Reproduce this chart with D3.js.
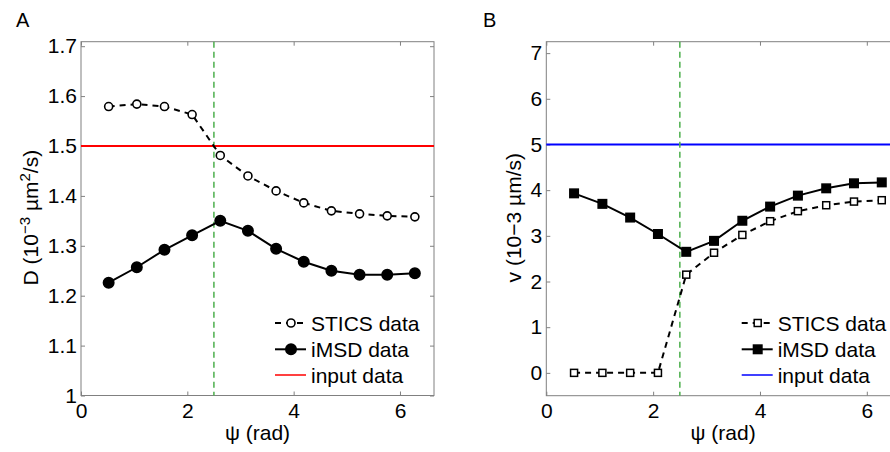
<!DOCTYPE html>
<meta charset="utf-8">
<style>
 body { margin: 0; background: #fff; }
 text { font-family: "Liberation Sans", Arial, sans-serif; fill: #000; }
 .axis path { display: none; }
 .axis line { stroke: #808080; }
 .axis text { font-size: 21px; }
 .frame { fill: none; stroke: #808080; stroke-width: 1; }
</style>
<svg id="chart" width="890" height="452"></svg>
<script src="https://cdn.jsdelivr.net/npm/d3@7"></script>
<script>

 // angle psi (rad) of each measurement
 var psi = [0.52, 1.05, 1.57, 2.09, 2.62, 3.14, 3.67, 4.19, 4.71, 5.24, 5.76, 6.28];

 // panel A: diffusion coefficient
 var dStics = [1.579, 1.584, 1.579, 1.563, 1.481, 1.440, 1.410, 1.386, 1.370, 1.364, 1.360, 1.358];
 var dImsd  = [1.226, 1.257, 1.292, 1.321, 1.350, 1.330, 1.294, 1.268, 1.250, 1.242, 1.242, 1.245];
 var dInput = 1.5;
 var dTicks = [1, 1.1, 1.2, 1.3, 1.4, 1.5, 1.6, 1.7];

 // panel B: velocity
 var vStics = [0, 0, 0, 0, 2.15, 2.63, 3.02, 3.32, 3.54, 3.67, 3.75, 3.78];
 var vImsd  = [3.93, 3.70, 3.40, 3.04, 2.65, 2.89, 3.33, 3.64, 3.88, 4.04, 4.15, 4.17];
 var vInput = 5;
 var vTicks = [0, 1, 2, 3, 4, 5, 6, 7];

 var xTicks = [0, 2, 4, 6];
 var psiMark = 2.5;
 var legendNames = ["STICS data", "iMSD data", "input data"];

 var svg = d3.select("#chart");

 drawPanel({
     label: "A", left: 81, right: 434, top: 41.7, bottom: 395.5,
     ydom: [1, 1.709], yticks: dTicks, yfmt: function(d) { return d == 1 ? "1" : d3.format(".1f")(d); },
     stics: dStics, imsd: dImsd, input: dInput, inputColor: "#ff0000",
     marker: "circle", ylabelX: 37.5, legendX: 275, labelX: 16
 });

 drawPanel({
     label: "B", left: 546.3, right: 901, top: 41.7, bottom: 395.7,
     ydom: [-0.5, 7.25], yticks: vTicks, yfmt: d3.format("d"),
     stics: vStics, imsd: vImsd, input: vInput, inputColor: "#0000ff",
     marker: "square", ylabelX: 521, legendX: 741.7, labelX: 483
 });

 function drawPanel(p)
 {
     var x = d3.scaleLinear().domain([0, 6.64]).range([p.left, p.right]);
     var y = d3.scaleLinear().domain(p.ydom).range([p.bottom, p.top]);
     var g = svg.append("g");

     // axes with inside ticks, MATLAB style
     g.append("g").attr("class", "axis").attr("transform", "translate(0," + p.bottom + ")")
      .call(d3.axisBottom(x).tickValues(xTicks).tickSize(-4).tickPadding(7.5).tickFormat(d3.format("d")));
     g.append("g").attr("class", "axis").attr("transform", "translate(0," + p.top + ")")
      .call(d3.axisTop(x).tickValues(xTicks).tickSize(-4).tickFormat(""));
     g.append("g").attr("class", "axis").attr("transform", "translate(" + p.left + ",0)")
      .call(d3.axisLeft(y).tickValues(p.yticks).tickSize(-4).tickPadding(4).tickFormat(p.yfmt));
     g.append("g").attr("class", "axis").attr("transform", "translate(" + p.right + ",0)")
      .call(d3.axisRight(y).tickValues(p.yticks).tickSize(-4).tickFormat(""));
     g.selectAll(".axis").attr("font-family", null).attr("font-size", null);

     g.append("rect").attr("class", "frame")
      .attr("x", p.left).attr("y", p.top)
      .attr("width", p.right - p.left).attr("height", p.bottom - p.top);

     // input reference line
     g.append("line").attr("x1", p.left).attr("x2", p.right)
      .attr("y1", y(p.input)).attr("y2", y(p.input))
      .attr("stroke", p.inputColor).attr("stroke-width", 2);

     // vertical marker at psi = 2.5
     g.append("line").attr("x1", x(psiMark)).attr("x2", x(psiMark))
      .attr("y1", p.top).attr("y2", p.bottom)
      .attr("stroke", "#4caf4c").attr("stroke-width", 1.5).attr("stroke-dasharray", "6,4");

     var line = d3.line().x(function(d, i) { return x(psi[i]); }).y(function(d) { return y(d); });

     g.append("path").datum(p.stics).attr("d", line)
      .attr("fill", "none").attr("stroke", "#000").attr("stroke-width", 2).attr("stroke-dasharray", "6,5");
     g.append("path").datum(p.imsd).attr("d", line)
      .attr("fill", "none").attr("stroke", "#000").attr("stroke-width", 2);

     addMarkers(g, p.stics.map(function(d, i) { return [x(psi[i]), y(d)]; }), p.marker, false);
     addMarkers(g, p.imsd.map(function(d, i) { return [x(psi[i]), y(d)]; }), p.marker, true);

     // legend
     var rows = [323, 349.3, 375];
     var lx0 = p.legendX, lx1 = p.legendX + 31, lxm = p.legendX + 16;
     g.append("line").attr("x1", lx0).attr("x2", lx1).attr("y1", rows[0]).attr("y2", rows[0])
      .attr("stroke", "#000").attr("stroke-width", 2).attr("stroke-dasharray", "6,5");
     addMarkers(g, [[lxm, rows[0]]], p.marker, false);
     g.append("line").attr("x1", lx0).attr("x2", lx1).attr("y1", rows[1]).attr("y2", rows[1])
      .attr("stroke", "#000").attr("stroke-width", 2);
     addMarkers(g, [[lxm, rows[1]]], p.marker, true);
     g.append("line").attr("x1", lx0).attr("x2", lx1).attr("y1", rows[2]).attr("y2", rows[2])
      .attr("stroke", p.inputColor).attr("stroke-width", 1.5);
     g.selectAll(".legtext").data(legendNames).enter().append("text")
      .attr("x", lx1 + 5).attr("y", function(d, i) { return rows[i]; })
      .attr("dy", "0.36em").attr("font-size", 21).text(function(d) { return d; });

     // axis labels
     g.append("text").attr("x", (p.left + Math.min(p.right, 900)) / 2).attr("y", 440)
      .attr("text-anchor", "middle").attr("font-size", 21).text("\u03c8 (rad)");

     var yl = g.append("text").attr("transform", "translate(" + p.ylabelX + "," + ((p.top + p.bottom) / 2 - 1) + ") rotate(-90)")
      .attr("text-anchor", "middle").attr("font-size", 21);
     if (p.label == "A") {
         yl.append("tspan").text("D (10");
         yl.append("tspan").attr("dy", -7.5).attr("font-size", 15).text("\u22123");
         yl.append("tspan").attr("dy", 7.5).text(" \u00b5m");
         yl.append("tspan").attr("dy", -7.5).attr("font-size", 15).text("2");
         yl.append("tspan").attr("dy", 7.5).text("/s)");
     } else {
         yl.text("v (10\u22123 \u00b5m/s)");
     }

     g.append("text").attr("x", p.labelX).attr("y", 27).attr("font-size", 20).text(p.label);
 }

 function addMarkers(g, pts, kind, filled)
 {
     if (kind == "circle") {
         g.selectAll(null).data(pts).enter().append("circle")
          .attr("cx", function(d) { return d[0]; }).attr("cy", function(d) { return d[1]; })
          .attr("r", filled ? 5.2 : 4)
          .attr("fill", filled ? "#000" : "#fff").attr("stroke", "#000").attr("stroke-width", 1.6);
     } else {
         var s = filled ? 8.5 : 7;
         g.selectAll(null).data(pts).enter().append("rect")
          .attr("x", function(d) { return d[0] - s / 2; }).attr("y", function(d) { return d[1] - s / 2; })
          .attr("width", s).attr("height", s)
          .attr("fill", filled ? "#000" : "#fff").attr("stroke", "#000").attr("stroke-width", 1.5);
     }
 }

</script>
